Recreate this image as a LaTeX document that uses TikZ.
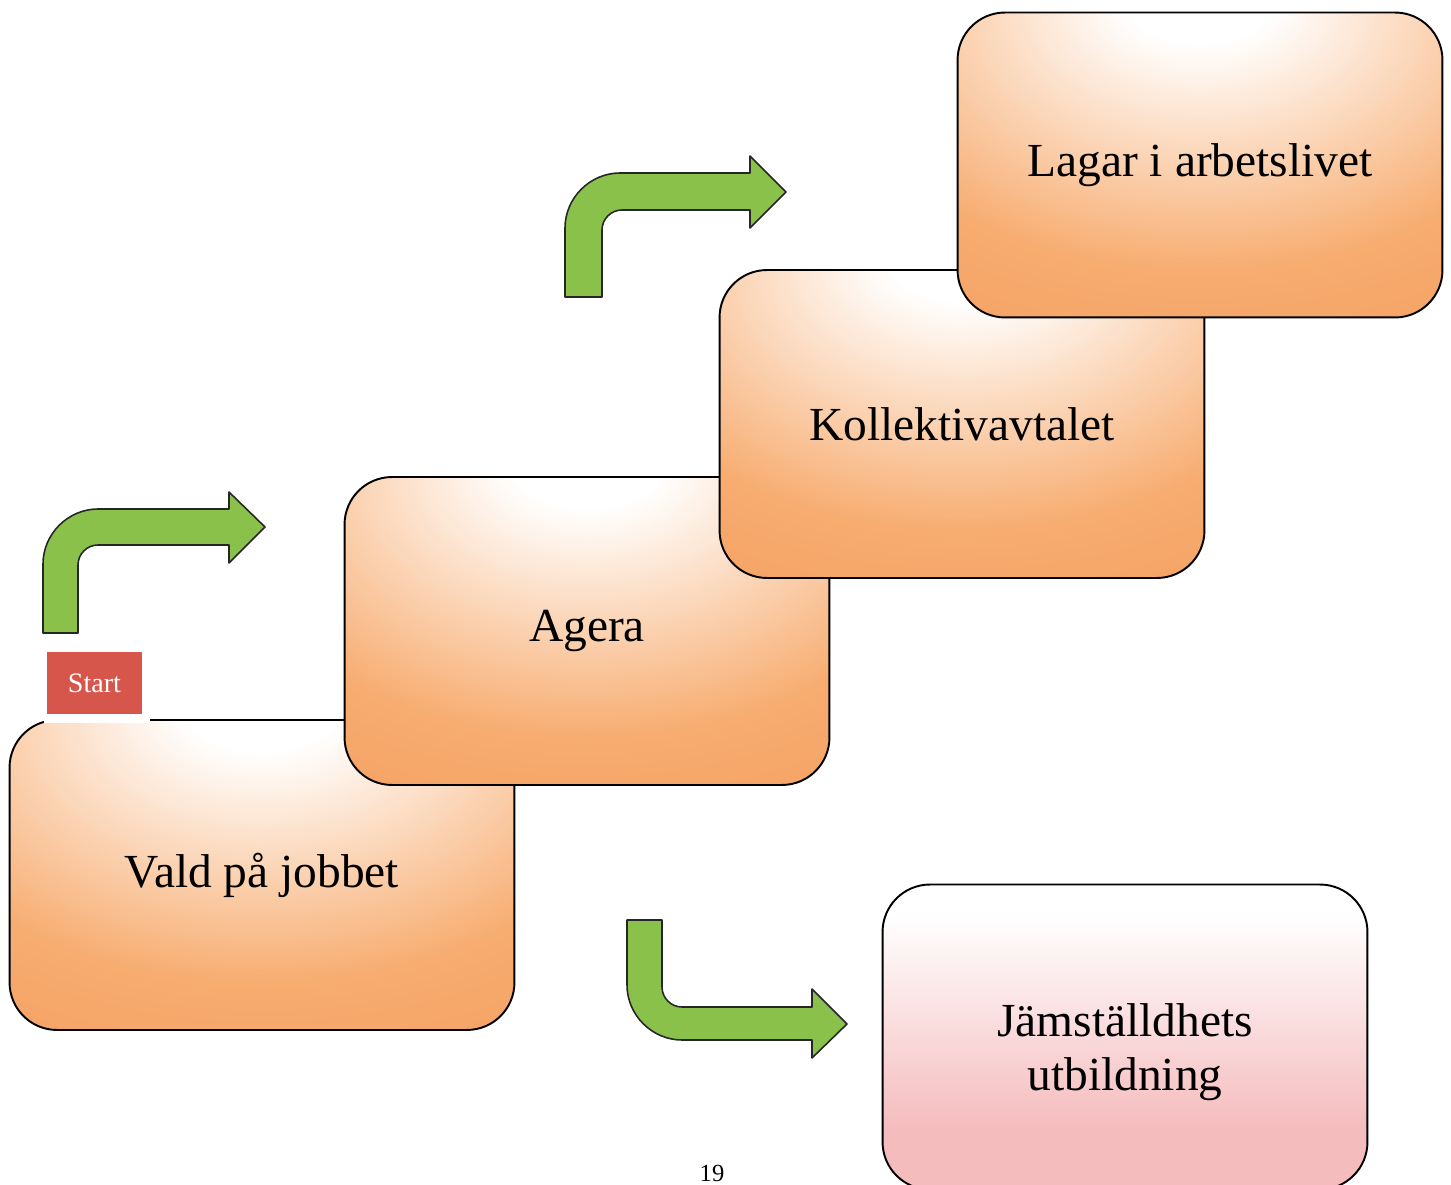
\documentclass[tikz,border=0pt]{standalone}
\usepackage{fontspec}
\setmainfont{Liberation Serif}

\definecolor{boxorange}{RGB}{247,172,112}
\definecolor{boxdeep}{RGB}{241,145,80}
\definecolor{pinkdeep}{RGB}{245,188,190}
\definecolor{arrowgreen}{RGB}{138,193,74}
\definecolor{startred}{RGB}{214,86,76}

\pgfdeclareradialshading{orangeglow}{\pgfpoint{0bp}{30bp}}{color(0bp)=(white); color(8bp)=(white); color(38bp)=(boxorange); color(75bp)=(boxdeep); color(120bp)=(boxdeep)}
\pgfdeclareverticalshading{pinkfade}{100bp}{color(0bp)=(pinkdeep); color(35bp)=(pinkdeep); color(70bp)=(white); color(100bp)=(white)}

\begin{document}
\begin{tikzpicture}[x=0.02cm, y=-0.02cm,
  stepbox/.style={draw, line width=1.1pt, rounded corners=0.95cm, shade, shading=orangeglow,
    minimum width=9.7cm, minimum height=6.16cm, align=center, font=\fontsize{27}{31}\selectfont},
  bentarrow/.style={draw=black!85, line width=0.9pt, fill=arrowgreen, line join=round}]
  \useasboundingbox (0,0) rectangle (1451,1185);
  % the steps, back to front
  \node [stepbox, minimum width=10.1cm, minimum height=6.2cm] (vald) at (262,875) {Vald på jobbet};
  \node [stepbox] (agera) at (587,631) {Agera};
  \node [stepbox] (kollektiv) at (962,424) {Kollektivavtalet};
  \node [stepbox, minimum height=6.1cm] (lagar) at (1200,165) {Lagar i arbetslivet};
  \node [stepbox, shading=pinkfade, minimum height=6.1cm] (jamstalld) at (1125,1037) {\rule{0pt}{36pt}Jämställdhets\\utbildning};
  % green bent arrows
  \draw [bentarrow] (43,633) -- (43,564) .. controls (43,534) and (68,509) .. (98,509) -- (229,509)
    -- (229,492) -- (265,527) -- (229,563) -- (229,545) -- (98,545)
    .. controls (87,545) and (78,554) .. (78,565) -- (78,633) -- cycle;
  \draw [bentarrow] (565,297) -- (565,228) .. controls (565,198) and (590,173) .. (620,173) -- (750,173)
    -- (750,156) -- (786,192) -- (750,228) -- (750,210) -- (622,210)
    .. controls (611,210) and (602,219) .. (602,230) -- (602,297) -- cycle;
  \draw [bentarrow] (627,920) -- (662,920) -- (662,987) .. controls (662,998) and (671,1007) .. (682,1007)
    -- (812,1007) -- (812,989) -- (847,1024) -- (812,1058) -- (812,1040) -- (682,1040)
    .. controls (652,1040) and (627,1015) .. (627,985) -- cycle;
  % start label
  \fill [white] (44,649) rectangle (150,723);
  \node [fill=startred, text=white, minimum width=1.9cm, minimum height=1.24cm, inner sep=0pt,
    font=\fontsize{16}{18}\selectfont] (start) at (94.5,683) {Start};
  \node [anchor=base, font=\fontsize{14}{16}\selectfont] (page) at (712,1181) {19};
\end{tikzpicture}
\end{document}
